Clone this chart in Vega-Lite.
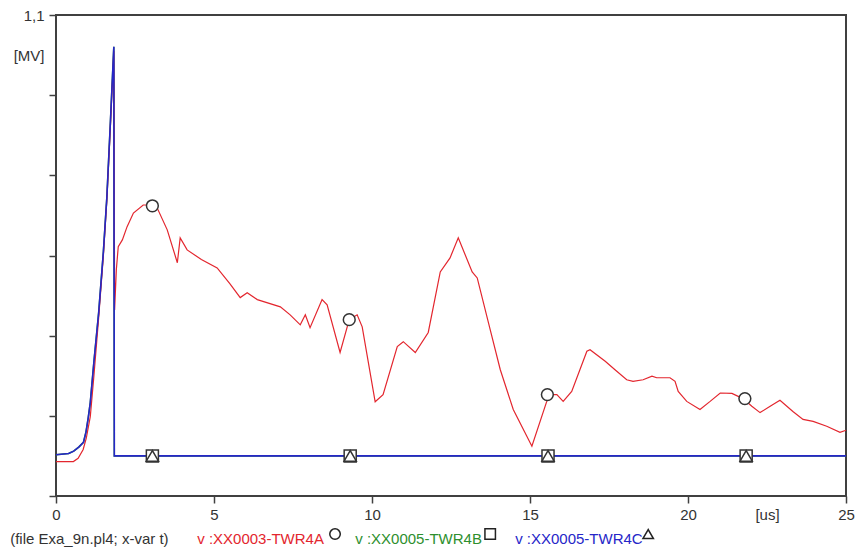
{
  "$schema": "https://vega.github.io/schema/vega-lite/v6.json",
  "autosize": {"type": "none"},
  "padding": {"left": 56, "top": 15, "right": 12, "bottom": 58},
  "width": 790,
  "height": 481,
  "background": "white",
  "config": {
    "view": {"stroke": "#404040", "strokeWidth": 2},
    "font": "Liberation Sans"
  },
  "datasets": {
    "curves": [
      {"series": "TWR4C", "t": 0, "v": 0.003},
      {"series": "TWR4C", "t": 0.4, "v": 0.006},
      {"series": "TWR4C", "t": 0.56, "v": 0.012},
      {"series": "TWR4C", "t": 0.72, "v": 0.022},
      {"series": "TWR4C", "t": 0.87, "v": 0.034},
      {"series": "TWR4C", "t": 0.95, "v": 0.06},
      {"series": "TWR4C", "t": 1.02, "v": 0.095},
      {"series": "TWR4C", "t": 1.085, "v": 0.133},
      {"series": "TWR4C", "t": 1.2, "v": 0.235},
      {"series": "TWR4C", "t": 1.35, "v": 0.357},
      {"series": "TWR4C", "t": 1.5, "v": 0.51},
      {"series": "TWR4C", "t": 1.61, "v": 0.646},
      {"series": "TWR4C", "t": 1.72, "v": 0.83},
      {"series": "TWR4C", "t": 1.83, "v": 1.021},
      {"series": "TWR4C", "t": 1.845, "v": 0},
      {"series": "TWR4C", "t": 25, "v": 0},
      {"series": "TWR4B", "t": 0, "v": 0.003},
      {"series": "TWR4B", "t": 0.4, "v": 0.006},
      {"series": "TWR4B", "t": 0.56, "v": 0.012},
      {"series": "TWR4B", "t": 0.72, "v": 0.022},
      {"series": "TWR4B", "t": 0.87, "v": 0.034},
      {"series": "TWR4B", "t": 0.95, "v": 0.06},
      {"series": "TWR4B", "t": 1.02, "v": 0.095},
      {"series": "TWR4B", "t": 1.085, "v": 0.133},
      {"series": "TWR4B", "t": 1.2, "v": 0.235},
      {"series": "TWR4B", "t": 1.35, "v": 0.357},
      {"series": "TWR4B", "t": 1.5, "v": 0.51},
      {"series": "TWR4B", "t": 1.61, "v": 0.646},
      {"series": "TWR4B", "t": 1.72, "v": 0.83},
      {"series": "TWR4B", "t": 1.83, "v": 1.021},
      {"series": "TWR4B", "t": 1.845, "v": 0},
      {"series": "TWR4B", "t": 25, "v": 0},
      {"series": "TWR4A", "t": 0, "v": -0.014},
      {"series": "TWR4A", "t": 0.55, "v": -0.014},
      {"series": "TWR4A", "t": 0.7, "v": -0.006},
      {"series": "TWR4A", "t": 0.86, "v": 0.016},
      {"series": "TWR4A", "t": 0.96, "v": 0.045},
      {"series": "TWR4A", "t": 1.085, "v": 0.098},
      {"series": "TWR4A", "t": 1.2, "v": 0.2},
      {"series": "TWR4A", "t": 1.35, "v": 0.345},
      {"series": "TWR4A", "t": 1.5, "v": 0.5},
      {"series": "TWR4A", "t": 1.61, "v": 0.64},
      {"series": "TWR4A", "t": 1.72, "v": 0.82},
      {"series": "TWR4A", "t": 1.83, "v": 1.01},
      {"series": "TWR4A", "t": 1.855, "v": 0.364},
      {"series": "TWR4A", "t": 1.91, "v": 0.465},
      {"series": "TWR4A", "t": 1.97, "v": 0.522},
      {"series": "TWR4A", "t": 2.1, "v": 0.539},
      {"series": "TWR4A", "t": 2.25, "v": 0.572},
      {"series": "TWR4A", "t": 2.45, "v": 0.606},
      {"series": "TWR4A", "t": 2.76, "v": 0.626},
      {"series": "TWR4A", "t": 3.05, "v": 0.626},
      {"series": "TWR4A", "t": 3.2, "v": 0.619},
      {"series": "TWR4A", "t": 3.52, "v": 0.564},
      {"series": "TWR4A", "t": 3.84, "v": 0.482},
      {"series": "TWR4A", "t": 3.93, "v": 0.544},
      {"series": "TWR4A", "t": 4.15, "v": 0.514},
      {"series": "TWR4A", "t": 4.6, "v": 0.49},
      {"series": "TWR4A", "t": 5.1, "v": 0.469},
      {"series": "TWR4A", "t": 5.5, "v": 0.43},
      {"series": "TWR4A", "t": 5.83, "v": 0.395},
      {"series": "TWR4A", "t": 6.05, "v": 0.407},
      {"series": "TWR4A", "t": 6.37, "v": 0.39},
      {"series": "TWR4A", "t": 7.1, "v": 0.372},
      {"series": "TWR4A", "t": 7.41, "v": 0.352},
      {"series": "TWR4A", "t": 7.73, "v": 0.327},
      {"series": "TWR4A", "t": 7.89, "v": 0.352},
      {"series": "TWR4A", "t": 8.04, "v": 0.32},
      {"series": "TWR4A", "t": 8.42, "v": 0.39},
      {"series": "TWR4A", "t": 8.58, "v": 0.377},
      {"series": "TWR4A", "t": 8.99, "v": 0.258},
      {"series": "TWR4A", "t": 9.28, "v": 0.34},
      {"series": "TWR4A", "t": 9.53, "v": 0.352},
      {"series": "TWR4A", "t": 9.69, "v": 0.322},
      {"series": "TWR4A", "t": 10.1, "v": 0.135},
      {"series": "TWR4A", "t": 10.35, "v": 0.153},
      {"series": "TWR4A", "t": 10.8, "v": 0.273},
      {"series": "TWR4A", "t": 10.99, "v": 0.285},
      {"series": "TWR4A", "t": 11.37, "v": 0.258},
      {"series": "TWR4A", "t": 11.78, "v": 0.308},
      {"series": "TWR4A", "t": 12.16, "v": 0.459},
      {"series": "TWR4A", "t": 12.47, "v": 0.494},
      {"series": "TWR4A", "t": 12.73, "v": 0.544},
      {"series": "TWR4A", "t": 13.17, "v": 0.459},
      {"series": "TWR4A", "t": 13.33, "v": 0.444},
      {"series": "TWR4A", "t": 13.74, "v": 0.315},
      {"series": "TWR4A", "t": 14.06, "v": 0.215},
      {"series": "TWR4A", "t": 14.47, "v": 0.116},
      {"series": "TWR4A", "t": 15.06, "v": 0.024},
      {"series": "TWR4A", "t": 15.53, "v": 0.136},
      {"series": "TWR4A", "t": 15.57, "v": 0.153},
      {"series": "TWR4A", "t": 15.85, "v": 0.153},
      {"series": "TWR4A", "t": 16.05, "v": 0.136},
      {"series": "TWR4A", "t": 16.32, "v": 0.161},
      {"series": "TWR4A", "t": 16.8, "v": 0.261},
      {"series": "TWR4A", "t": 16.9, "v": 0.265},
      {"series": "TWR4A", "t": 17.38, "v": 0.236},
      {"series": "TWR4A", "t": 17.69, "v": 0.215},
      {"series": "TWR4A", "t": 18.06, "v": 0.19},
      {"series": "TWR4A", "t": 18.26, "v": 0.186},
      {"series": "TWR4A", "t": 18.58, "v": 0.19},
      {"series": "TWR4A", "t": 18.86, "v": 0.199},
      {"series": "TWR4A", "t": 19.01, "v": 0.195},
      {"series": "TWR4A", "t": 19.43, "v": 0.195},
      {"series": "TWR4A", "t": 19.59, "v": 0.186},
      {"series": "TWR4A", "t": 19.69, "v": 0.161},
      {"series": "TWR4A", "t": 19.96, "v": 0.136},
      {"series": "TWR4A", "t": 20.38, "v": 0.116},
      {"series": "TWR4A", "t": 20.7, "v": 0.136},
      {"series": "TWR4A", "t": 21.02, "v": 0.157},
      {"series": "TWR4A", "t": 21.39, "v": 0.156},
      {"series": "TWR4A", "t": 21.74, "v": 0.143},
      {"series": "TWR4A", "t": 22.02, "v": 0.124},
      {"series": "TWR4A", "t": 22.28, "v": 0.108},
      {"series": "TWR4A", "t": 22.6, "v": 0.124},
      {"series": "TWR4A", "t": 22.91, "v": 0.139},
      {"series": "TWR4A", "t": 23.32, "v": 0.111},
      {"series": "TWR4A", "t": 23.64, "v": 0.091},
      {"series": "TWR4A", "t": 23.96, "v": 0.086},
      {"series": "TWR4A", "t": 24.39, "v": 0.074},
      {"series": "TWR4A", "t": 24.81, "v": 0.059},
      {"series": "TWR4A", "t": 25, "v": 0.064}
    ],
    "markers": [
      {"series": "TWR4A", "t": 3.05, "v": 0.624},
      {"series": "TWR4A", "t": 9.28, "v": 0.34},
      {"series": "TWR4A", "t": 15.55, "v": 0.153},
      {"series": "TWR4A", "t": 21.8, "v": 0.143},
      {"series": "TWR4B", "t": 3.05, "v": 0},
      {"series": "TWR4B", "t": 9.31, "v": 0},
      {"series": "TWR4B", "t": 15.57, "v": 0},
      {"series": "TWR4B", "t": 21.84, "v": 0},
      {"series": "TWR4C", "t": 3.05, "v": 0},
      {"series": "TWR4C", "t": 9.31, "v": 0},
      {"series": "TWR4C", "t": 15.57, "v": 0},
      {"series": "TWR4C", "t": 21.84, "v": 0}
    ],
    "legendText": [
      {"series": "file", "t": -1.45, "label": "(file Exa_9n.pl4; x-var t)"},
      {"series": "TWR4A", "t": 4.47, "label": "v :XX0003-TWR4A"},
      {"series": "TWR4B", "t": 9.47, "label": "v :XX0005-TWR4B"},
      {"series": "TWR4C", "t": 14.53, "label": "v :XX0005-TWR4C"}
    ],
    "legendSymbols": [
      {"series": "TWR4A", "t": 8.83},
      {"series": "TWR4B", "t": 13.74},
      {"series": "TWR4C", "t": 18.74}
    ]
  },
  "layer": [
    {
      "data": {"name": "curves"},
      "transform": [{"filter": "datum.series == 'TWR4B'"}],
      "mark": {"type": "line", "strokeWidth": 1.5},
      "encoding": {
        "x": {
          "field": "t", "type": "quantitative",
          "scale": {"domain": [0, 25], "nice": false, "zero": false},
          "axis": {
            "title": null, "grid": false, "domain": false,
            "values": [0, 5, 10, 15, 20, 22.5, 25],
            "labelExpr": "datum.value == 22.5 ? '[us]' : datum.label",
            "tickOpacity": {"condition": {"test": "datum.value == 22.5", "value": 0}, "value": 1},
            "tickColor": "#404040", "tickWidth": 1.5, "tickSize": 7,
            "labelFlush": false, "labelOverlap": false,
            "labelFontSize": 15, "labelColor": "#333333", "labelPadding": 4,
            "labelFont": "Liberation Sans"
          }
        },
        "y": {
          "field": "v", "type": "quantitative",
          "scale": {"domain": [-0.1, 1.1], "nice": false, "zero": false},
          "axis": {
            "title": null, "grid": false, "domain": false,
            "values": [-0.1, 0.1, 0.3, 0.5, 0.7, 0.9, 1.0, 1.1],
            "labelExpr": "abs(datum.value - 1.1) < 0.001 ? '1,1' : (abs(datum.value - 1.0) < 0.001 ? '[MV]' : '')",
            "tickOpacity": {"condition": {"test": "abs(datum.value - 1.0) < 0.001", "value": 0}, "value": 1},
            "tickColor": "#404040", "tickWidth": 1.5, "tickSize": 7,
            "labelFlush": false, "labelOverlap": false,
            "labelFontSize": 15, "labelColor": "#333333", "labelPadding": 5,
            "labelFont": "Liberation Sans"
          }
        },
        "color": {"field": "series", "type": "nominal", "legend": null,
          "scale": {"domain": ["TWR4A", "TWR4B", "TWR4C", "file"], "range": ["#e3262e", "#2e8f2e", "#2626c8", "#333333"]}}
      }
    },
    {
      "data": {"name": "curves"},
      "transform": [{"filter": "datum.series == 'TWR4A'"}],
      "mark": {"type": "line", "strokeWidth": 1.2},
      "encoding": {
        "x": {"field": "t", "type": "quantitative"},
        "y": {"field": "v", "type": "quantitative"},
        "color": {"field": "series", "type": "nominal", "legend": null}
      }
    },
    {
      "data": {"name": "curves"},
      "transform": [{"filter": "datum.series == 'TWR4C'"}],
      "mark": {"type": "line", "strokeWidth": 1.6},
      "encoding": {
        "x": {"field": "t", "type": "quantitative"},
        "y": {"field": "v", "type": "quantitative"},
        "color": {"field": "series", "type": "nominal", "legend": null}
      }
    },
    {
      "data": {"name": "markers"},
      "mark": {"type": "point", "filled": true, "fill": "white", "stroke": "#333333", "strokeWidth": 1.5, "opacity": 1},
      "encoding": {
        "x": {"field": "t", "type": "quantitative"},
        "y": {"field": "v", "type": "quantitative"},
        "shape": {"field": "series", "type": "nominal", "legend": null,
          "scale": {"domain": ["TWR4A", "TWR4B", "TWR4C"], "range": ["circle", "square", "triangle-up"]}},
        "size": {"field": "series", "type": "nominal", "legend": null,
          "scale": {"domain": ["TWR4A", "TWR4B", "TWR4C"], "range": [140, 150, 80]}}
      }
    },
    {
      "data": {"name": "legendText"},
      "mark": {"type": "text", "align": "left", "baseline": "middle", "fontSize": 15, "font": "Liberation Sans", "clip": false},
      "encoding": {
        "x": {"field": "t", "type": "quantitative"},
        "y": {"datum": -0.207},
        "text": {"field": "label"},
        "color": {"field": "series", "type": "nominal", "legend": null}
      }
    },
    {
      "data": {"name": "legendSymbols"},
      "mark": {"type": "point", "filled": false, "stroke": "#222222", "strokeWidth": 1.5, "opacity": 1, "clip": false},
      "encoding": {
        "x": {"field": "t", "type": "quantitative"},
        "y": {"datum": -0.195},
        "shape": {"field": "series", "type": "nominal", "legend": null},
        "size": {"value": 110}
      }
    }
  ]
}
